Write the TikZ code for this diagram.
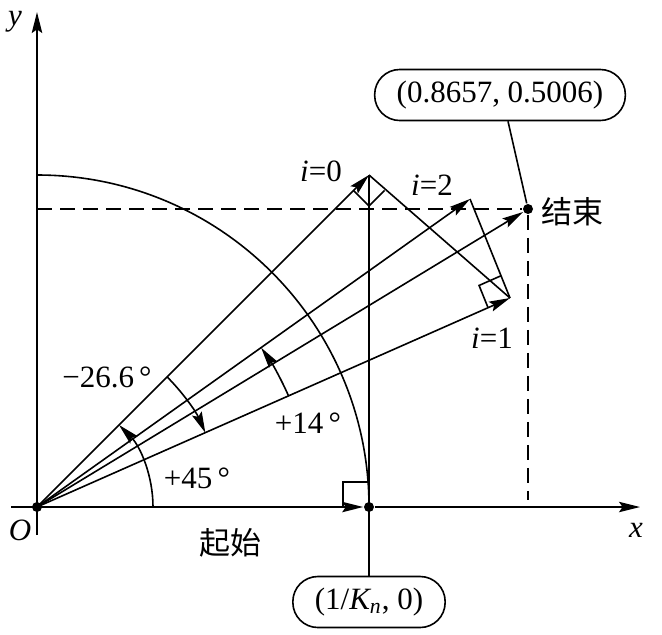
\documentclass[tikz,border=0pt]{standalone}
\usepackage{fontspec}
\setmainfont{Liberation Serif}
\newfontfamily\cjk{Noto Sans CJK SC}
\usetikzlibrary{arrows.meta,calc}
\begin{document}
\begin{tikzpicture}[x=0.5pt,y=0.5pt,
  line width=0.8pt,
  font=\fontsize{15.5}{18}\selectfont,
  arr/.style={-{Stealth[length=10.5pt,width=5.2pt,inset=1.8pt]}},
  dsh/.style={dash pattern=on 7.5pt off 4pt},
  lbl/.style={inner sep=0pt},
  callout/.style={draw,rounded corners=12.5pt,minimum height=25.5pt,inner xsep=11pt},
  pt/.style={circle,fill,inner sep=0pt,minimum size=5pt}]
\useasboundingbox (-37,-127) rectangle (625,507);
% coordinates
\coordinate (O) at (0,0);
\coordinate (xl) at (-26,0);
\coordinate (xr) at (603,0);
\coordinate (yb) at (0,-28);
\coordinate (yt) at (0,495);
\coordinate (P0) at (332,332);
\coordinate (P1) at (473,209);
\coordinate (P2) at (433,308);
\coordinate (Ey) at (0,298);
\coordinate (Ed) at (491,7);
\node[pt] (Odot) at (O) {};
\node[pt] (A) at (332,0) {};
\node[pt] (E) at (491,298) {};
% axes
\draw[arr] (yb) -- (yt);
\draw (xl) -- (O);
\draw[arr] (O) -- (A);
\draw[arr] (A) -- (xr);
\node[lbl] (ylab) at (-22,485) {\itshape y};
\node[lbl] (xlab) at (599,-23) {\itshape x};
\node[lbl] (Olab) at (-17,-23) {\itshape O};
% dashed
\draw[dsh] (Ey) -- (E);
\draw[dsh] (E) -- (Ed);
% unit arc
\draw (332,0) arc[start angle=0,end angle=90,radius=332];
% callouts
\node[callout] (bot) at (332,-95) {(1/{\itshape K}\textsubscript{\itshape n}, 0)};
\node[callout] (top) at (463,412) {(0.8657, 0.5006)};
\draw (P0) -- (bot.north);
\draw ([xshift=4pt]top.south) -- (E);
% vectors
\draw[arr] (O) -- (P0);
\draw[arr] (O) -- (P1);
\draw[arr] (O) -- (P2);
\draw[arr] (O) -- (E);
\draw (P0) -- (P1);
\draw (P1) -- (P2);
% right angle marks
\draw ($(P0)+(-15.5,-15.5)$) -- ($(P0)+(0,-31)$) -- ($(P0)+(15.5,-15.5)$);
\draw ($(P1)!12pt!(O)$) -- ++($(P1)!12pt!(P2)-(P1)$) -- ($(P1)!12pt!(P2)$);
\draw (306,0) -- (306,25) -- (332,25);
% angle arcs
\draw[arr] (116,0) arc[start angle=0,end angle=45,radius=116];
\draw[arr] (45:184) arc[start angle=45,end angle=23.8,radius=184];
\draw[arr] (23.8:275) arc[start angle=23.8,end angle=35.4,radius=275];
% labels
\node[lbl] (a45) at (160,29) {+45\,°};
\node[lbl] (a26) at (70,130) {−26.6\,°};
\node[lbl] (a14) at (271,84) {+14\,°};
\node[lbl] (i0) at (284,336) {{\itshape i}=0};
\node[lbl] (i2) at (395,322) {{\itshape i}=2};
\node[lbl] (i1) at (455,169) {{\itshape i}=1};
\node[lbl] (end) at (535,295) {\cjk 结束};
\node[lbl] (start) at (193,-36) {\cjk 起始};
\end{tikzpicture}
\end{document}
